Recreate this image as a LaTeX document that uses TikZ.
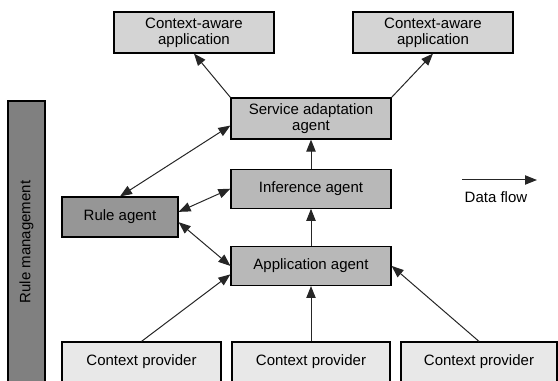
\documentclass[tikz,border=0pt]{standalone}
\usepackage{fontspec}
\setmainfont{Liberation Sans}
\usepackage{tikz}
\usetikzlibrary{arrows.meta, positioning}

\definecolor{appgray}{gray}{0.83}
\definecolor{svcgray}{gray}{0.77}
\definecolor{agentgray}{gray}{0.72}
\definecolor{rulegray}{gray}{0.59}
\definecolor{bargray}{gray}{0.50}
\definecolor{provgray}{gray}{0.91}

\begin{document}
\begin{tikzpicture}[x=0.75pt, y=-0.75pt, node distance=22pt,
    every node/.style={font=\fontsize{11.25}{12}\selectfont},
    box/.style={draw=black, line width=0.9pt, align=center, inner sep=1pt, minimum width=120pt, minimum height=30.75pt},
    link/.style={draw=black!85, line width=0.75pt, -{Triangle[length=9pt,width=7pt]}},
    dlink/.style={link, {Triangle[length=9pt,width=7pt]}-{Triangle[length=9pt,width=7pt]}}]
    \path[use as bounding box] (0,0) rectangle (558,381);
    \clip (0,0) rectangle (558,381);

    \node[box, fill=appgray] (app1) at (194,32.5) {Context-aware\\application};
    \node[box, fill=appgray] (app2) at (433,32.5) {Context-aware\\application};
    \node[box, fill=svcgray] (svc) at (311,118.5) {Service adaptation\\agent};
    \node[box, fill=agentgray, minimum height=29.25pt, below=21.75pt of svc] (inf) {Inference agent};
    \node[box, fill=agentgray, minimum height=29.25pt, below=27.75pt of inf] (appag) {Application agent};
    \node[box, fill=rulegray, minimum width=87pt, minimum height=30pt] (rule) at (120,217) {Rule agent};
    \node[box, fill=bargray, rotate=90, minimum width=211.5pt, minimum height=27.75pt] (bar) at (26.5,242) {Rule management};
    \node[box, fill=provgray, minimum width=119.25pt, minimum height=30pt] (prov1) at (141.5,362) {Context provider};
    \node[box, fill=provgray, minimum width=118.5pt, minimum height=30pt] (prov2) at (311,362) {Context provider};
    \node[box, fill=provgray, minimum width=117pt, minimum height=30pt] (prov3) at (479,362) {Context provider};

    % legend
    \coordinate (flowtail) at (462,180);
    \coordinate (flowhead) at (537,180);
    \node (flowlbl) at (496,197) {Data flow};
    \draw[link] (flowtail) -- (flowhead);

    \draw[link] (svc.north west) -- (app1.south);
    \draw[link] (svc.north east) -- (app2.south);
    \draw[dlink] (rule.north) -- (svc.185);
    \draw[dlink] (rule.5) -- (inf.west);
    \draw[dlink] (rule.-5) -- (appag.west);
    \draw[link] (inf) -- (svc);
    \draw[link] (appag) -- (inf);
    \draw[link] (prov1.north) -- (appag.186);
    \draw[link] (prov2) -- (appag);
    \draw[link] (prov3.north) -- (appag.east);
\end{tikzpicture}
\end{document}
